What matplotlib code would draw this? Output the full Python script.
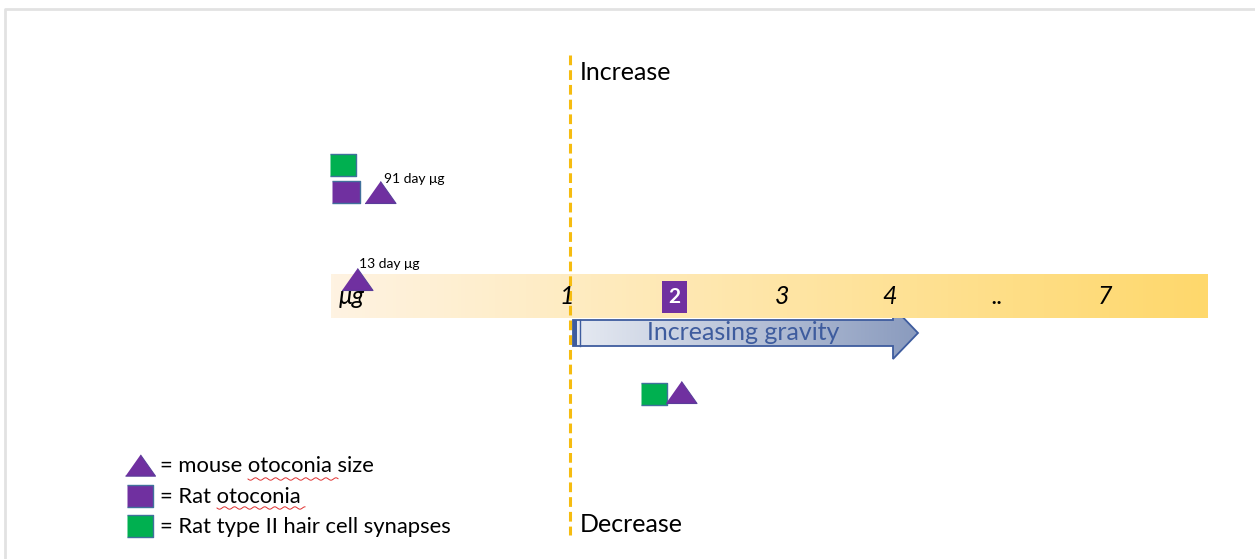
import numpy as np
import matplotlib.pyplot as plt
from matplotlib.patches import Polygon, Rectangle

plt.rcParams['font.family'] = ['Lato', 'DejaVu Sans']
plt.rcParams['lines.scale_dashes'] = False

W, H = 1255, 559

# gravity scale (position on the bar, label)
gravity_pos = [-1, 1, 2, 3, 4, 5, 6]
gravity_labels = ['μg', '1', '2', '3', '4', '..', '7']

# observations: x = place on gravity bar, y = change (+ increase / - decrease)
mouse_x = [-0.95, -0.735, 2.065]
mouse_y = [0.18, 1.05, -0.95]
rat_oto_x = [-1.055]
rat_oto_y = [1.05]
rat_syn_x = [-1.085, 1.805]
rat_syn_y = [1.32, -0.965]

notes = ['13 day μg', '91 day μg']
note_x = [-0.935, -0.70]
note_y = [0.33, 1.18]

legend_labels = ['= mouse otoconia size', '= Rat otoconia', '= Rat type II hair cell synapses']

PURPLE = '#7030a0'
GREEN = '#00b050'
EDGE = '#41719c'
GOLD = '#f6bc10'
BLUE = '#3e5c9e'

# pixel layout of the gravity axis
X1_PX, UNIT_X = 567, 107.5
Y0_PX, UNIT_Y = 297, 100.0

fig = plt.figure(figsize=(W / 100, H / 100), dpi=100)
lay = fig.add_axes([0, 0, 1, 1])
lay.set_xlim(0, W)
lay.set_ylim(H, 0)
lay.axis('off')

ax = fig.add_axes([0, 0, 1, 1])
ax.set_xlim(1 - X1_PX / UNIT_X, 1 + (W - X1_PX) / UNIT_X)
ax.set_ylim((Y0_PX - H) / UNIT_Y, Y0_PX / UNIT_Y)
ax.axis('off')

# page frame
lay.plot([5, 5, W], [H, 9, 9], color='#e2e2e2', lw=2, solid_capstyle='butt')

# gravity bar with gradient
grad = np.linspace(0, 1, 256)
c0 = np.array([254, 243, 226]) / 255
c1 = np.array([255, 216, 108]) / 255
band = (c0[None, :] * (1 - grad[:, None]) + c1[None, :] * grad[:, None])[None, :, :]
ax.imshow(band, extent=[gravity_pos[0] - 0.2, gravity_pos[-1] + 0.95, -0.21, 0.23],
          aspect='auto', zorder=1)

for p, lab in zip(gravity_pos, gravity_labels):
    if lab == '2':
        ax.text(p, 0.0, lab, ha='center', va='center', fontsize=15, fontweight='bold',
                color='white', zorder=4,
                bbox=dict(boxstyle='square,pad=0.3', fc=PURPLE, ec='none'))
    else:
        ax.text(p, 0.0, lab, ha='center', va='center', fontsize=18, style='italic',
                color='black', zorder=4)

# 1 g divider
ax.plot([1.03, 1.03], [2.42, -2.38], color=GOLD, lw=2.2, dashes=(7, 3.6), zorder=3)
ax.text(1.12, 2.25, 'Increase', fontsize=18, va='center', ha='left')
ax.text(1.12, -2.28, 'Decrease', fontsize=18, va='center', ha='left')

# increasing gravity arrow
arrow_xy = [(573, 320), (893, 320), (893, 307), (918, 333), (893, 359), (893, 346), (573, 346)]
arrow = Polygon(arrow_xy, closed=True, fc='none', ec=BLUE, lw=1.3, zorder=3)
lay.add_patch(arrow)
a0 = np.array([230, 234, 242]) / 255
a1 = np.array([138, 155, 190]) / 255
agrad = (a0[None, :] * (1 - grad[:, None]) + a1[None, :] * grad[:, None])[None, :, :]
im = lay.imshow(agrad, extent=[573, 918, 359, 307], aspect='auto', zorder=2)
im.set_clip_path(arrow)
lay.add_patch(Rectangle((573, 320), 4, 26, fc=BLUE, ec='none', zorder=4))
lay.plot([580, 580], [320, 346], color=BLUE, lw=1, zorder=4)
lay.text(743, 333, 'Increasing gravity', fontsize=18, color=BLUE, ha='center', va='center', zorder=5)
lay.set_xlim(0, W)
lay.set_ylim(H, 0)

# markers
sq = [(-14, -11), (14, -11), (14, 11), (-14, 11)]
sq_g = [(-13.5, -11), (13.5, -11), (13.5, 11), (-13.5, 11)]
tri = [(-15.5, -11), (15.5, -11), (0, 11)]
pt = 72 / 100
ax.scatter(rat_syn_x, rat_syn_y, marker=sq_g, s=(27 * pt) ** 2, c=GREEN, edgecolors=EDGE, linewidths=1, zorder=5)
ax.scatter(rat_oto_x, rat_oto_y, marker=sq, s=(28 * pt) ** 2, c=PURPLE, edgecolors=EDGE, linewidths=1, zorder=5)
ax.scatter(mouse_x, mouse_y, marker=tri, s=(31 * pt) ** 2, c=PURPLE, edgecolors='#5a3d9a', linewidths=0.8, zorder=6)

for t, x, y in zip(notes, note_x, note_y):
    ax.text(x, y, t, fontsize=10, ha='left', va='center', zorder=7)

# legend
leg_y = [465, 496, 526]
lay.scatter([140], [leg_y[0]], marker=tri, s=(30 * pt) ** 2, c=PURPLE, edgecolors='#5a3d9a', linewidths=0.8, zorder=5)
lay.scatter([140], [leg_y[1]], marker=[(-13, -11), (13, -11), (13, 11), (-13, 11)], s=(26 * pt) ** 2,
            c=PURPLE, edgecolors=EDGE, linewidths=1, zorder=5)
lay.scatter([140], [leg_y[2]], marker=sq_g, s=(27 * pt) ** 2, c=GREEN, edgecolors=EDGE, linewidths=1, zorder=5)
for lab, y in zip(legend_labels, leg_y):
    lay.text(160, y + 1, lab, fontsize=15.8, ha='left', va='center')

# spell-check squiggles under "otoconia"
for x0, x1, y in [(248, 338, 479), (217, 305, 508)]:
    xs = np.linspace(x0, x1, 120)
    lay.plot(xs, y + 1.2 * np.sin((xs - x0) / 1.6), color='#e03030', lw=0.7)

fig.savefig('out.png', dpi=100)
